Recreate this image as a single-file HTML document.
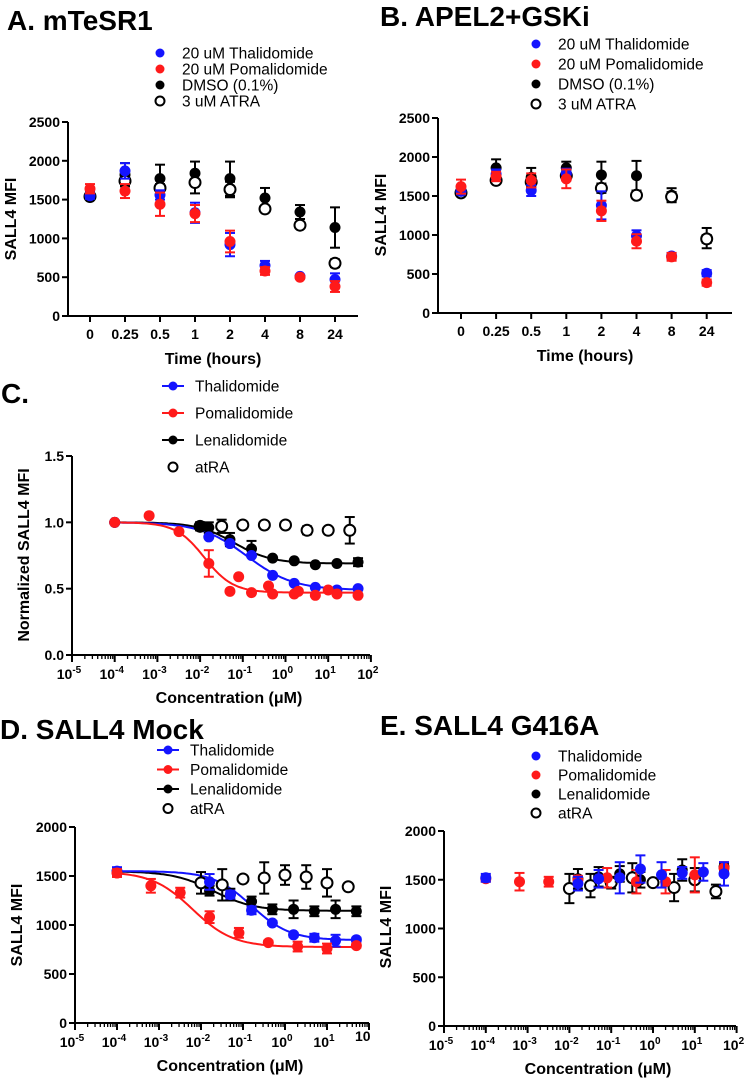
<!DOCTYPE html>
<html><head><meta charset="utf-8"><style>
body{margin:0;background:#fff;}
svg{display:block;font-family:"Liberation Sans",Arial,sans-serif;}
.t{font-weight:bold;font-size:14px;}
.ti{font-weight:bold;font-size:16px;}
.lg{font-size:15.5px;}
.h{font-family:"Liberation Sans",Arial,sans-serif;font-weight:bold;font-size:28px;}
</style></head><body>
<svg id="fig" width="748" height="1078" viewBox="0 0 748 1078"></svg>
<script>
// ---- Panel A / B data (time course) ----
const timeCats=["0","0.25","0.5","1","2","4","8","24"];
const aThal=[1550,1870,1560,1330,920,650,510,470];
const aThalErr=[40,100,60,130,150,60,20,80];
const aPom=[1640,1610,1440,1320,960,580,500,380];
const aPomErr=[60,90,150,110,140,50,20,70];
const aDmso=[1560,1820,1770,1840,1770,1520,1340,1140];
const aDmsoErr=[40,150,180,150,220,130,90,260];
const aAtra=[1540,1740,1650,1720,1630,1380,1170,680];
const aAtraErr=[40,60,50,140,100,40,40,50];
const bThal=[1560,1780,1570,1790,1380,990,730,510];
const bThalErr=[40,60,70,60,180,70,40,40];
const bPom=[1620,1750,1700,1720,1310,920,720,390];
const bPomErr=[90,60,90,120,130,90,50,40];
const bDmso=[1570,1860,1740,1860,1770,1760,1510,960];
const bDmsoErr=[40,110,120,80,170,190,90,130];
const bAtra=[1540,1700,1680,1760,1600,1510,1490,950];
const bAtraErr=[30,30,70,60,60,30,60,50];
// ---- Panel C data (normalized) ----
const cThalX=[1e-4,0.016,0.05,0.16,0.5,1.6,5,16,50];
const cThalY=[1.0,0.89,0.84,0.75,0.60,0.54,0.51,0.49,0.50];
const cPomX=[1e-4,6.4e-4,3.2e-3,0.016,0.05,0.08,0.16,0.4,0.5,1.6,2,5,10,16,50];
const cPomY=[1.0,1.05,0.93,0.69,0.48,0.59,0.47,0.52,0.46,0.46,0.48,0.45,0.49,0.46,0.45];
const cPomErr=[0,0,0,0.1,0,0,0,0,0,0,0,0,0,0,0];
const cLenX=[1e-4,0.01,0.016,0.05,0.16,0.5,1.6,5,16,50];
const cLenY=[1.0,0.97,0.96,0.87,0.80,0.73,0.71,0.68,0.69,0.70];
const cLenErr=[0,0.03,0.04,0.05,0.06,0,0,0,0,0.03];
const cAtraX=[0.01,0.032,0.1,0.32,1,3.2,10,32];
const cAtraY=[0.97,0.97,0.98,0.98,0.98,0.94,0.94,0.94];
const cAtraErr=[0.03,0.05,0,0,0,0.03,0.02,0.1];
const cFitThal=[1.0,0.49,-0.9,0.8];
const cFitPom=[1.0,0.47,-1.9,1.3];
const cFitLen=[1.0,0.69,-1.2,1.0];
// ---- Panel D data ----
const dThalX=[1e-4,0.016,0.05,0.16,0.5,1.6,5,16,50];
const dThalY=[1550,1440,1310,1150,1020,900,870,840,850];
const dThalErr=[40,80,40,40,20,20,40,60,20];
const dPomX=[1e-4,6.4e-4,3.2e-3,0.016,0.08,0.4,2,10,50];
const dPomY=[1530,1400,1330,1080,920,820,780,760,790];
const dPomErr=[40,70,50,60,50,20,50,50,20];
const dLenX=[1e-4,0.016,0.05,0.16,0.5,1.6,5,16,50];
const dLenY=[1540,1350,1310,1240,1160,1160,1140,1160,1140];
const dLenErr=[30,50,60,50,50,90,50,90,50];
const dAtraX=[0.01,0.032,0.1,0.32,1,3.2,10,32];
const dAtraY=[1430,1410,1470,1480,1510,1490,1430,1390];
const dAtraErr=[110,160,30,160,100,120,140,0];
const dFitThal=[1550,845,-0.8,0.95];
const dFitPom=[1545,775,-2.2,0.9];
const dFitLen=[1548,1145,-1.7,0.9];
// ---- Panel E data ----
const eThalX=[1e-4,0.016,0.05,0.16,0.5,1.6,5,16,50];
const eThalY=[1520,1460,1510,1520,1610,1550,1570,1580,1560];
const eThalErr=[40,70,90,160,140,130,60,90,120];
const ePomX=[1e-4,6.4e-4,3.2e-3,0.016,0.08,0.4,2,10,50];
const ePomY=[1510,1480,1480,1500,1520,1480,1480,1550,1620];
const ePomErr=[30,90,50,40,100,120,120,180,60];
const eLenX=[0.016,0.05,0.16,0.5,5,50];
const eLenY=[1510,1530,1560,1500,1600,1630];
const eLenErr=[100,100,80,80,110,40];
const eAtraX=[0.01,0.032,0.1,0.32,1,3.2,10,32];
const eAtraY=[1410,1440,1470,1520,1470,1420,1500,1380];
const eAtraErr=[150,120,60,150,0,140,120,70];

const NS="http://www.w3.org/2000/svg";
const svg=document.getElementById('fig');
function mk(tag,attrs,parent,text){const e=document.createElementNS(NS,tag);for(const k in attrs)e.setAttribute(k,attrs[k]);if(text!==undefined)e.textContent=text;(parent||svg).appendChild(e);return e;}
const BLUE="#1414ff",RED="#ff1a1a",BLK="#000";

function group(name){const g=mk('g',{});


return g;}
function label(g,x,y,txt,cls,anchor,name,rot){const t=mk('text',{x:x,y:y,class:cls,'text-anchor':anchor||'start'},g,txt);
if(rot)t.setAttribute('transform','rotate(-90 '+x+' '+y+')');


return t;}
function point(g,x,y,color,open,r){const c=mk('circle',{cx:x,cy:y,r:r||5,fill:open?'#fff':color,stroke:color,'stroke-width':open?2:0},g);

}
function errbar(g,x,y1,y2,color){if(Math.abs(y2-y1)<2)return;mk('line',{x1:x,y1:y1,x2:x,y2:y2,stroke:color,'stroke-width':2},g);
mk('line',{x1:x-5,y1:y1,x2:x+5,y2:y1,stroke:color,'stroke-width':2},g);
mk('line',{x1:x-5,y1:y2,x2:x+5,y2:y2,stroke:color,'stroke-width':2},g);}

function yAxis(g,x0,yb,yt,vmax,step,fmt,xend){
  const ys=v=>yb-(v/vmax)*(yb-yt);
  mk('line',{x1:x0,y1:yt,x2:x0,y2:yb+1,stroke:'#000','stroke-width':2},g);
  mk('line',{x1:x0-1,y1:yb,x2:xend,y2:yb,stroke:'#000','stroke-width':2},g);
  for(let v=0;v<=vmax+1e-9;v+=step){const y=ys(v);mk('line',{x1:x0-6,y1:y,x2:x0,y2:y,stroke:'#000','stroke-width':2},g);
  label(g,x0-8,y+5,fmt(v),'t','end','y-tick-label');}
  return ys;
}
function catPanel(name,x0,yb,yt,xend,cx0,dx,series,ylabX,ylabY){
  const g=group(name);
  const ys=yAxis(g,x0,yb,yt,2500,500,v=>String(v),xend);
  const xs=i=>cx0+i*dx;
  timeCats.forEach((c,i)=>{mk('line',{x1:xs(i),y1:yb,x2:xs(i),y2:yb+6,stroke:'#000','stroke-width':2},g);
    label(g,xs(i),yb+23,c,'t','middle','x-tick-label');});
  label(g,(x0+xend)/2,yb+48,'Time  (hours)','ti','middle','x-axis-title');
  label(g,ylabX,ylabY,'SALL4 MFI','ti','middle','y-axis-title',true);
  series.forEach(s=>{const sg=group(s.n);s.v.forEach((v,i)=>{errbar(sg,xs(i),ys(v-s.e[i]),ys(v+s.e[i]),s.c);});
    s.v.forEach((v,i)=>point(sg,xs(i),ys(v),s.c,s.o,5.5));});
  return g;
}
function legend(g,x,y0,dy,items,lines){
  items.forEach((it,i)=>{const y=y0+i*dy;const lg=group('legend-entry');g.appendChild(lg);
    if(lines&&!it.o)mk('line',{x1:x-11,y1:y,x2:x+11,y2:y,stroke:it.c,'stroke-width':2},lg);
    point(lg,x,y,it.c,it.o,4.5);
    label(lg,x+22,y+5.5,it.t,'lg','start','legend-label');});
}
function logPanel(name,x0,xend,yb,yt,vmax,step,fmt,dec,series,fits,ylab,ylabX,ylabY,xlabY,lastLbl){
  const g=group(name);
  const ys=yAxis(g,x0,yb,yt,vmax,step,fmt,xend);
  const xs=c=>x0+(Math.log10(c)+5)*dec;
  for(let d=-5;d<=2;d++){const x=x0+(d+5)*dec;mk('line',{x1:x,y1:yb,x2:x,y2:yb+7,stroke:'#000','stroke-width':2},g);
    if(d<2||lastLbl){const t=label(g,x-3,yb+24,'10','t','middle','x-tick-label');mk('tspan',{dy:-6,'font-size':'10px'},t,String(d));}
    if(d<2)for(let m=2;m<10;m++){const xm=x+Math.log10(m)*dec;mk('line',{x1:xm,y1:yb,x2:xm,y2:yb+4,stroke:'#000','stroke-width':1.3},g);}}
  label(g,(x0+xend)/2+8,yb+48,'Concentration (\u03bcM)','ti','middle','x-axis-title');
  label(g,ylabX,ylabY,ylab,'ti','middle','y-axis-title',true);
  fits.forEach(f=>{let p='';for(let lx=-4;lx<=Math.log10(50)+1e-9;lx+=0.05){const v=f.p[1]+(f.p[0]-f.p[1])/(1+Math.pow(10,(lx-f.p[2])*f.p[3]));p+=(p?'L':'M')+(x0+(lx+5)*dec).toFixed(1)+','+ys(v).toFixed(1);}
    const pa=mk('path',{d:p,fill:'none',stroke:f.c,'stroke-width':2},g);
    
    });
  series.forEach(s=>{const sg=group(s.n);s.x.forEach((c,i)=>{const e=s.e?s.e[i]:0;errbar(sg,xs(c),ys(s.y[i]-e),ys(s.y[i]+e),s.c);});
    s.x.forEach((c,i)=>point(sg,xs(c),ys(s.y[i]),s.c,s.o,5.5));});
  return g;
}
// Titles
const hd=group('panel-titles');
label(hd,7,30,'A. mTeSR1','h','start','panel-a-title');
label(hd,380,26,'B. APEL2+GSKi','h','start','panel-b-title');
label(hd,1,403,'C.','h','start','panel-c-title');
label(hd,0,739,'D. SALL4 Mock','h','start','panel-d-title');
label(hd,380,735,'E. SALL4 G416A','h','start','panel-e-title');

const A=catPanel('panel-a-chart',68,316,122,358,90,35,[
 {n:'series-dmso',v:aDmso,e:aDmsoErr,c:BLK},{n:'series-atra',v:aAtra,e:aAtraErr,c:BLK,o:1},
 {n:'series-thalidomide',v:aThal,e:aThalErr,c:BLUE},{n:'series-pomalidomide',v:aPom,e:aPomErr,c:RED}],16,219);
legend(A,160,53,16,[{t:'20 uM Thalidomide',c:BLUE},{t:'20 uM Pomalidomide',c:RED},{t:'DMSO (0.1%)',c:BLK},{t:'3 uM ATRA',c:BLK,o:1}]);
const B=catPanel('panel-b-chart',438,313,118,732,461,35.1,[
 {n:'series-dmso',v:bDmso,e:bDmsoErr,c:BLK},{n:'series-atra',v:bAtra,e:bAtraErr,c:BLK,o:1},
 {n:'series-thalidomide',v:bThal,e:bThalErr,c:BLUE},{n:'series-pomalidomide',v:bPom,e:bPomErr,c:RED}],386,215);
legend(B,536,44,20,[{t:'20 uM Thalidomide',c:BLUE},{t:'20 uM Pomalidomide',c:RED},{t:'DMSO (0.1%)',c:BLK},{t:'3 uM ATRA',c:BLK,o:1}]);

const C=logPanel('panel-c-chart',72,370,655,456,1.5,0.5,v=>v.toFixed(1),42.7,[
 {n:'series-atra',x:cAtraX,y:cAtraY,e:cAtraErr,c:BLK,o:1},
 {n:'series-lenalidomide',x:cLenX,y:cLenY,e:cLenErr,c:BLK},
 {n:'series-thalidomide',x:cThalX,y:cThalY,c:BLUE},
 {n:'series-pomalidomide',x:cPomX,y:cPomY,e:cPomErr,c:RED}],
 [{p:cFitLen,c:BLK},{p:cFitThal,c:BLUE},{p:cFitPom,c:RED}],'Normalized  SALL4  MFI',29,555,692,true);
legend(C,173,386,27,[{t:'Thalidomide',c:BLUE},{t:'Pomalidomide',c:RED},{t:'Lenalidomide',c:BLK},{t:'atRA',c:BLK,o:1}],true);

const D=logPanel('panel-d-chart',75,369,1023,827,2000,500,v=>String(v),42,[
 {n:'series-atra',x:dAtraX,y:dAtraY,e:dAtraErr,c:BLK,o:1},
 {n:'series-lenalidomide',x:dLenX,y:dLenY,e:dLenErr,c:BLK},
 {n:'series-thalidomide',x:dThalX,y:dThalY,e:dThalErr,c:BLUE},
 {n:'series-pomalidomide',x:dPomX,y:dPomY,e:dPomErr,c:RED}],
 [{p:dFitLen,c:BLK},{p:dFitThal,c:BLUE},{p:dFitPom,c:RED}],'SALL4 MFI',22,925,1066,false);
label(D,355,1041,'10','t','start','x-tick-label');
legend(D,168,750,19.5,[{t:'Thalidomide',c:BLUE},{t:'Pomalidomide',c:RED},{t:'Lenalidomide',c:BLK},{t:'atRA',c:BLK,o:1}],true);

const E=logPanel('panel-e-chart',444,736,1026,831,2000,500,v=>String(v),41.8,[
 {n:'series-atra',x:eAtraX,y:eAtraY,e:eAtraErr,c:BLK,o:1},
 {n:'series-lenalidomide',x:eLenX,y:eLenY,e:eLenErr,c:BLK},
 {n:'series-pomalidomide',x:ePomX,y:ePomY,e:ePomErr,c:RED},
 {n:'series-thalidomide',x:eThalX,y:eThalY,e:eThalErr,c:BLUE}],
 [],'SALL4 MFI',391,927,1069,true);
legend(E,536,756,19,[{t:'Thalidomide',c:BLUE},{t:'Pomalidomide',c:RED},{t:'Lenalidomide',c:BLK},{t:'atRA',c:BLK,o:1}]);
</script>
</body></html>
